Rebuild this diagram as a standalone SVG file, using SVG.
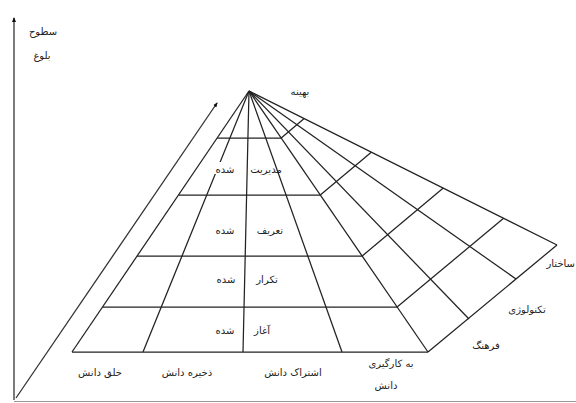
<svg xmlns="http://www.w3.org/2000/svg" width="576" height="403" viewBox="0 0 576 403">
<defs>
<marker id="ah" viewBox="0 0 10 10" refX="8" refY="5" markerWidth="5" markerHeight="5" orient="auto" markerUnits="userSpaceOnUse">
<path d="M0,1 L10,5 L0,9 Z" fill="#111"/>
</marker>
<style>
.ln{stroke:#222;stroke-width:1.25;fill:none}
.ax{stroke:#333;stroke-width:1.3;fill:none}
.t{font-family:"DejaVu Sans",sans-serif;font-size:10px;fill:#222}
.bg{fill:#fff}
</style>
</defs>
<rect width="576" height="403" fill="#fff"/>
<g id="axes">
<line class="ax" x1="14" y1="400" x2="14" y2="18" marker-end="url(#ah)"/>
<line x1="14" y1="401.5" x2="576" y2="401.5" stroke="#999" stroke-width="1.2"/>
<line class="ax" x1="16" y1="398" x2="217" y2="103" marker-end="url(#ah)"/>
</g>
<g id="connectors">
<line class="ln" x1="72" y1="352" x2="249" y2="91"/>
<line class="ln" x1="143" y1="352" x2="249" y2="91"/>
<line class="ln" x1="243" y1="352" x2="249" y2="91"/>
<line class="ln" x1="342" y1="352" x2="249" y2="91"/>
<line class="ln" x1="428" y1="352" x2="249" y2="91"/>
<line class="ln" x1="72" y1="352" x2="428" y2="352"/>
<line class="ln" x1="102.5" y1="307" x2="397.1" y2="307"/>
<line class="ln" x1="137.1" y1="256" x2="362.2" y2="256"/>
<line class="ln" x1="178.5" y1="195" x2="320.3" y2="195"/>
<line class="ln" x1="217.1" y1="138" x2="281.2" y2="138"/>
<line class="ln" x1="249" y1="91" x2="557" y2="245"/>
<line class="ln" x1="249" y1="91" x2="516" y2="279"/>
<line class="ln" x1="249" y1="91" x2="469" y2="319"/>
<line class="ln" x1="428" y1="352" x2="557" y2="245"/>
<line class="ln" x1="397.1" y1="307" x2="503.6" y2="218.3"/>
<line class="ln" x1="362.2" y1="256" x2="443.3" y2="188.1"/>
<line class="ln" x1="320.3" y1="195" x2="371.3" y2="152.2"/>
<line class="ln" x1="281.2" y1="138" x2="304.2" y2="118.6"/>
</g>
<g id="axis-label">
<text class="t" x="43" y="35" text-anchor="middle">سطوح</text>
<text class="t" x="42" y="59" text-anchor="middle">بلوغ</text>
</g>
<g id="level-optimized">
<text class="t" x="300" y="95" text-anchor="middle">بهینه</text>
</g>
<g id="level-managed">
<rect class="bg" x="212" y="162" width="25" height="12"/>
<text class="t" y="173"><tspan x="266" text-anchor="middle">مدیریت</tspan><tspan x="225" text-anchor="middle">شده</tspan></text>
</g>
<g id="level-defined">
<text class="t" y="234"><tspan x="270" text-anchor="middle">تعریف</tspan><tspan x="225" text-anchor="middle">شده</tspan></text>
</g>
<g id="level-repeated">
<text class="t" y="283"><tspan x="267" text-anchor="middle">تکرار</tspan><tspan x="226" text-anchor="middle">شده</tspan></text>
</g>
<g id="level-initial">
<text class="t" y="334"><tspan x="262" text-anchor="middle">آغاز</tspan><tspan x="225" text-anchor="middle">شده</tspan></text>
</g>
<g id="col-create"><text class="t" x="100" y="376" text-anchor="middle">خلق دانش</text></g>
<g id="col-store"><text class="t" x="187" y="376" text-anchor="middle">ذخیره دانش</text></g>
<g id="col-share"><text class="t" x="293" y="376" text-anchor="middle">اشتراک دانش</text></g>
<g id="col-apply">
<text class="t" x="391" y="367" text-anchor="middle">به کارگیری</text>
<text class="t" x="386" y="389" text-anchor="middle">دانش</text>
</g>
<g id="row-structure"><text class="t" x="575" y="267" text-anchor="end">ساختار</text></g>
<g id="row-technology"><text class="t" x="527" y="313" text-anchor="middle">تکنولوژی</text></g>
<g id="row-culture"><text class="t" x="486" y="349" text-anchor="middle">فرهنگ</text></g>
</svg>
